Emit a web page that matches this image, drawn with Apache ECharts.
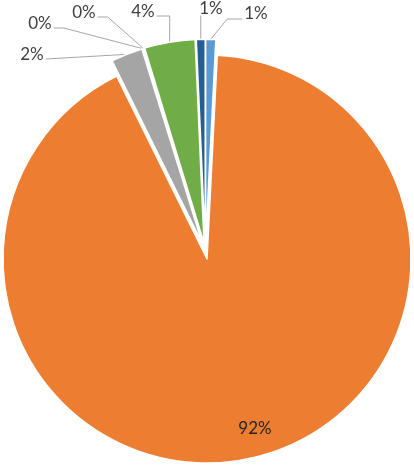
<!DOCTYPE html>
<html>
<head>
<meta charset="utf-8">
<script src="https://cdn.jsdelivr.net/npm/echarts@6/dist/echarts.min.js"></script>
<style>html,body{margin:0;padding:0;background:#fff}#c{width:414px;height:466px}</style>
</head>
<body>
<div id="c"></div>
<script>
// Data (clockwise from 12 o'clock)
const categories = ['A', 'B', 'C', 'D', 'E', 'F', 'G'];
const values = [0.8, 91.9, 2.5, 0.05, 0.05, 4.0, 0.7];
const percentLabels = ['1%', '92%', '2%', '0%', '0%', '4%', '1%'];

// Styles / layout (kept separate from data)
const colors = ['#5B9BD5', '#ED7D31', '#A5A5A5', '#FFC000', '#4472C4', '#70AD47', '#255E91'];
const labelPos = [[256, 14], [255, 429], [32, 55], [40, 24], [84, 13], [143, 12], [211, 9]];
// how each leader line meets its label: side of label, horizontal elbow length
const labelLink = [['left', 15], null, ['right', 0], ['right', 10], ['right', 10], ['right', 13], ['bottom', 0]];
const baseCenter = [205.4, 251.2];
const R = 204;
const explode = 8;

const total = values.reduce((a, b) => a + b, 0);
let cum = 0;
const series = categories.map((name, k) => {
  const mid = (cum + values[k] / 2) / total * 2 * Math.PI;
  cum += values[k];
  const cx = baseCenter[0] + explode * Math.sin(mid);
  const cy = baseCenter[1] - explode * Math.cos(mid);
  return {
    type: 'pie',
    silent: true,
    center: [cx, cy],
    radius: [0, R],
    startAngle: 90,
    clockwise: true,
    avoidLabelOverlap: false,
    emphasis: {disabled: true},
    label: {
      show: true,
      position: 'outside',
      formatter: p => percentLabels[p.dataIndex],
      fontFamily: 'Lato',
      fontSize: 17,
      color: '#404040'
    },
    labelLine: {show: true, lineStyle: {color: '#A6A6A6', width: 1}},
    labelLayout: function (params) {
      if (params.dataIndex !== k) return {};
      const p = labelPos[k];
      const out = {x: p[0], y: p[1], align: 'center', verticalAlign: 'middle'};
      const link = labelLink[k];
      if (link && params.labelLinePoints) {
        const s = params.labelLinePoints[0];
        const w = params.labelRect.width;
        const h = params.labelRect.height;
        let end, elbow;
        if (link[0] === 'left') {
          end = [p[0] - w / 2 - 2, p[1] + 5];
          elbow = [end[0] - link[1], end[1]];
        } else if (link[0] === 'right') {
          end = [p[0] + w / 2 + 2, p[1] + 4];
          elbow = [end[0] + link[1], end[1]];
        } else {
          end = [s[0], p[1] + h / 2 - 2];
          elbow = end;
        }
        out.labelLinePoints = [[s[0], s[1]], elbow, end];
      }
      return out;
    },
    data: categories.map((c, i) => ({
      name: c,
      value: values[i],
      itemStyle: i === k
        ? {color: colors[i], borderColor: '#fff', borderWidth: 1.5}
        : {color: 'rgba(0,0,0,0)', borderWidth: 0},
      label: i === k ? (i === 1 ? {color: '#262626'} : {}) : {show: false},
      labelLine: {show: i === k && i !== 1}
    }))
  };
});

const chart = echarts.init(document.getElementById('c'), null, {renderer: 'canvas'});
chart.setOption({animation: false, series: series});
</script>
</body>
</html>
